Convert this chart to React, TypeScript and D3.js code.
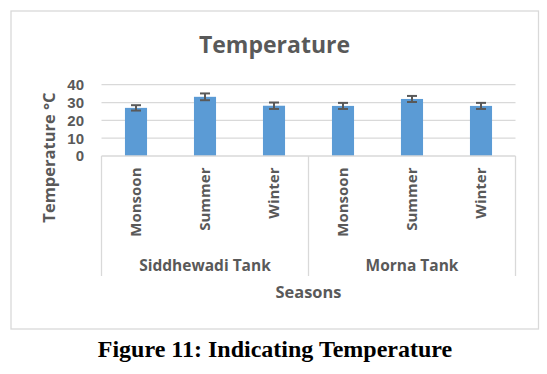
import React from 'react';
import * as d3 from 'd3';

const tanks = ['Siddhewadi Tank', 'Morna Tank'];
const seasons = ['Monsoon', 'Summer', 'Winter'];
const siddhewadiTemp = [27, 33.2, 28.2];
const siddhewadiErr = [1.5, 1.9, 1.8];
const mornaTemp = [28.1, 32, 28.1];
const mornaErr = [1.7, 1.7, 1.7];
const yTicks = [0, 10, 20, 30, 40];

const W = 547;
const H = 374;
const GRAY = '#595959';
const FONT = '"Open Sans", sans-serif';

const App = () => {
  const plot = { left: 101.5, right: 515.5, top: 84.7, bottom: 156 };

  // one row per bar, built from the named arrays
  const rows = tanks.flatMap((tank, ti) =>
    seasons.map((season, si) => ({
      key: `${tank}|${season}`,
      tank,
      season,
      value: ti === 0 ? siddhewadiTemp[si] : mornaTemp[si],
      err: ti === 0 ? siddhewadiErr[si] : mornaErr[si],
    }))
  );

  const x = d3.scaleBand()
    .domain(rows.map(d => d.key))
    .range([plot.left, plot.right])
    .paddingInner(0.68)
    .paddingOuter(0.34);

  const xGroup = d3.scaleBand()
    .domain(tanks)
    .range([plot.left, plot.right])
    .padding(0);

  const y = d3.scaleLinear()
    .domain([0, 40])
    .range([plot.bottom, plot.top]);

  const axisBottom = 276;

  return (
    <svg width={W} height={H} style={{ position: 'absolute', left: 0, top: 0, background: '#fff' }}>
      {/* chart frame */}
      <rect x={11} y={11} width={527.5} height={318} fill="#fff" stroke="#d9d9d9" strokeWidth={1.3} />

      <text x={274.5} y={53.3} textAnchor="middle" fontFamily={FONT} fontWeight="bold"
        fontSize={23} fill={GRAY}>Temperature</text>

      {/* gridlines */}
      {yTicks.filter(t => t > 0).map(t => (
        <line key={t} x1={plot.left} x2={plot.right} y1={y(t)} y2={y(t)} stroke="#d9d9d9" strokeWidth={1.3} />
      ))}

      {/* y tick labels */}
      {yTicks.map(t => (
        <text key={t} x={84} y={y(t)} dy="0.36em" textAnchor="end" fontFamily='"Liberation Sans", Arial, sans-serif'
          fontWeight="bold" fontSize={15} fill={GRAY}>{t}</text>
      ))}

      <text transform={`translate(54.5,157.5) rotate(-90)`} textAnchor="middle" fontFamily={FONT}
        fontWeight="bold" fontSize={16.5} fill={GRAY}>Temperature °C</text>

      {/* bars */}
      {rows.map(d => (
        <rect key={d.key} x={x(d.key)} y={y(d.value)} width={x.bandwidth()}
          height={y(0) - y(d.value)} fill="#5b9bd5" />
      ))}

      {/* error bars */}
      {rows.map(d => {
        const cx = (x(d.key) as number) + x.bandwidth() / 2;
        return (
          <g key={d.key} stroke={GRAY} strokeWidth={2}>
            <line x1={cx} x2={cx} y1={y(d.value + d.err)} y2={y(d.value - d.err)} />
            <line x1={cx - 5} x2={cx + 5} y1={y(d.value + d.err)} y2={y(d.value + d.err)} />
            <line x1={cx - 5} x2={cx + 5} y1={y(d.value - d.err)} y2={y(d.value - d.err)} />
          </g>
        );
      })}

      {/* multi-level category axis */}
      <line x1={plot.left} x2={plot.right} y1={plot.bottom} y2={plot.bottom} stroke="#d9d9d9" strokeWidth={1.3} />
      {[...tanks.map(t => xGroup(t) as number), plot.right].map((px, i) => (
        <line key={i} x1={px} x2={px} y1={plot.bottom} y2={axisBottom} stroke="#d9d9d9" strokeWidth={1.3} />
      ))}

      {rows.map(d => {
        const cx = (x(d.key) as number) + x.bandwidth() / 2;
        return (
          <text key={d.key} transform={`translate(${cx},167.5) rotate(-90)`} textAnchor="end"
            dy="0.36em" fontFamily={FONT} fontWeight="bold" fontSize={15} fill={GRAY}>{d.season}</text>
        );
      })}

      {tanks.map(t => (
        <text key={t} x={(xGroup(t) as number) + xGroup.bandwidth() / 2} y={270.5} textAnchor="middle"
          fontFamily={FONT} fontWeight="bold" fontSize={15.5} fill={GRAY}>{t}</text>
      ))}

      <text x={308.5} y={297.7} textAnchor="middle" fontFamily={FONT} fontWeight="bold"
        fontSize={16.4} fill={GRAY}>Seasons</text>

      <text x={275} y={356.7} textAnchor="middle" fontFamily='"Liberation Serif", "Times New Roman", serif'
        fontWeight="bold" fontSize={24} fill="#000">Figure 11: Indicating Temperature</text>
    </svg>
  );
};

export default App;
